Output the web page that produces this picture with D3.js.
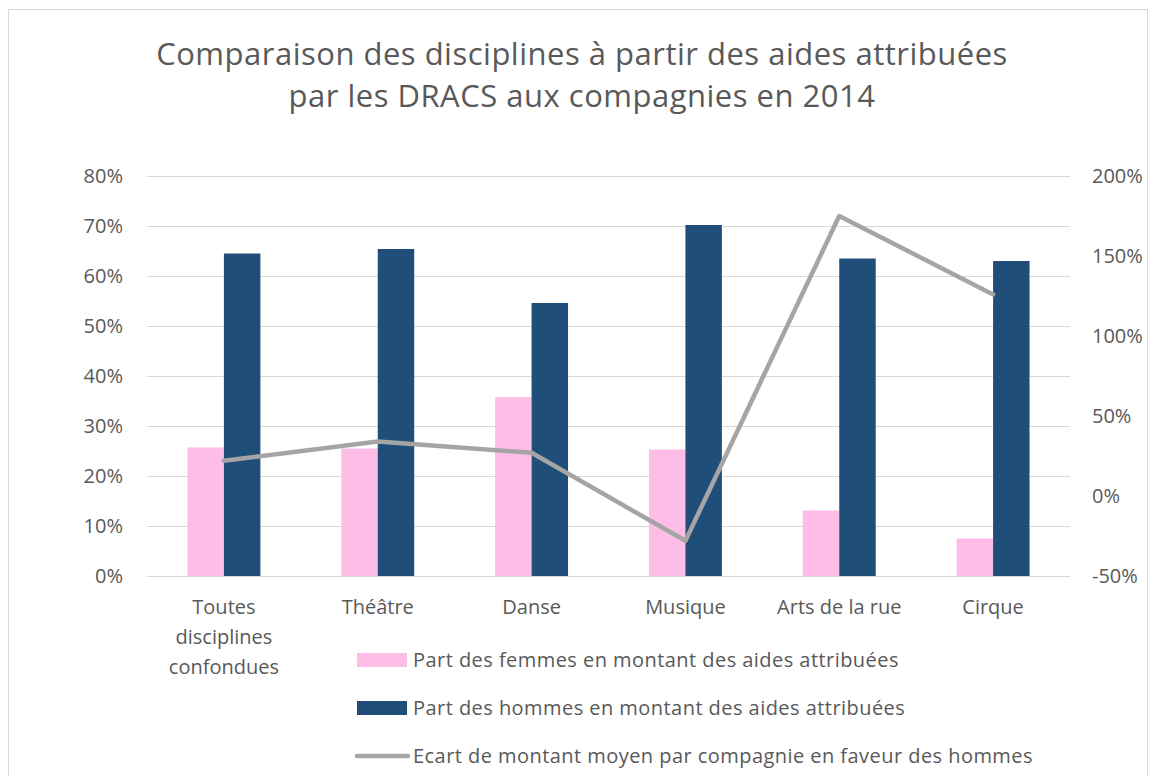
<!DOCTYPE html>
<html>
<head>
<meta charset="utf-8">
<script src="https://cdn.jsdelivr.net/npm/d3@7.9.0/dist/d3.min.js"></script>
<style>
  body { margin: 0; background: #fff; }
  text { font-family: "Open Sans", sans-serif; fill: #595959; }
</style>
</head>
<body>
<div class="container"></div>
<script>
// data
const categories = ["Toutes disciplines confondues", "Théâtre", "Danse", "Musique", "Arts de la rue", "Cirque"];
const categoryLines = [["Toutes", "disciplines", "confondues"], ["Théâtre"], ["Danse"], ["Musique"], ["Arts de la rue"], ["Cirque"]];
const femmes = [25.7, 25.5, 35.8, 25.3, 13.1, 7.5];
const hommes = [64.5, 65.4, 54.6, 70.2, 63.5, 63.0];
const ecart = [22, 34, 27, -28, 175, 126];
const leftTicks = [0, 10, 20, 30, 40, 50, 60, 70, 80];
const rightTicks = [-50, 0, 50, 100, 150, 200];
const seriesNames = [
  "Part des femmes en montant des aides attribuées",
  "Part des hommes en montant des aides attribuées",
  "Ecart de montant moyen par compagnie en faveur des hommes"
];

const width = 1156, height = 776;
const plot = {left: 147, right: 1070, top: 176, bottom: 576};

const svg = d3.select(".container").append("svg")
  .attr("width", width)
  .attr("height", height);

// chart frame
svg.append("rect")
  .attr("x", 8.5).attr("y", 9.5)
  .attr("width", 1139).attr("height", 800)
  .attr("fill", "none")
  .attr("stroke", "#d9d9d9");

// title
const title = svg.append("text")
  .attr("text-anchor", "middle")
  .style("font-size", "31px")
  .style("letter-spacing", "0.5px");
title.append("tspan").attr("x", 582).attr("y", 65)
  .text("Comparaison des disciplines à partir des aides attribuées");
title.append("tspan").attr("x", 582).attr("y", 107)
  .text("par les DRACS aux compagnies en 2014");

const x = d3.scaleBand()
  .domain(categories)
  .range([plot.left, plot.right]);

const yLeft = d3.scaleLinear().domain([0, 80]).range([plot.bottom, plot.top]);
const yRight = d3.scaleLinear().domain([-50, 200]).range([plot.bottom, plot.top]);

const barW = x.bandwidth() * 0.237;

// gridlines
svg.append("g")
  .selectAll("line")
  .data(leftTicks)
  .enter().append("line")
  .attr("x1", plot.left).attr("x2", plot.right)
  .attr("y1", d => Math.round(yLeft(d)) + 0.5)
  .attr("y2", d => Math.round(yLeft(d)) + 0.5)
  .attr("stroke", "#d9d9d9")
  .attr("stroke-width", 1.2);

// left axis labels
svg.append("g")
  .selectAll("text")
  .data(leftTicks)
  .enter().append("text")
  .attr("x", 123)
  .attr("y", d => yLeft(d) + 7)
  .attr("text-anchor", "end")
  .style("font-size", "20px")
  .text(d => d + "%");

// right axis labels
svg.append("g")
  .selectAll("text")
  .data(rightTicks)
  .enter().append("text")
  .attr("x", 1092)
  .attr("y", d => yRight(d) + 7)
  .style("font-size", "20px")
  .text(d => d + "%");

// bars
svg.append("g")
  .selectAll("rect")
  .data(femmes)
  .enter().append("rect")
  .attr("x", (d, i) => x(categories[i]) + x.bandwidth() / 2 - barW)
  .attr("y", d => yLeft(d))
  .attr("width", barW)
  .attr("height", d => yLeft(0) - yLeft(d))
  .attr("fill", "#fdbde6");

svg.append("g")
  .selectAll("rect")
  .data(hommes)
  .enter().append("rect")
  .attr("x", (d, i) => x(categories[i]) + x.bandwidth() / 2)
  .attr("y", d => yLeft(d))
  .attr("width", barW)
  .attr("height", d => yLeft(0) - yLeft(d))
  .attr("fill", "#1f4e79");

// line on secondary axis
const line = d3.line()
  .x((d, i) => x(categories[i]) + x.bandwidth() / 2)
  .y(d => yRight(d));

svg.append("path")
  .datum(ecart)
  .attr("d", line)
  .attr("fill", "none")
  .attr("stroke", "#a5a5a5")
  .attr("stroke-width", 4.5)
  .attr("stroke-linecap", "round")
  .attr("stroke-linejoin", "round");

// category labels
const cat = svg.append("g")
  .selectAll("text")
  .data(categories)
  .enter().append("text")
  .attr("text-anchor", "middle")
  .style("font-size", "20px");
cat.each(function(d, i) {
  d3.select(this).selectAll("tspan")
    .data(categoryLines[i])
    .enter().append("tspan")
    .attr("x", x(d) + x.bandwidth() / 2)
    .attr("y", (t, j) => 614 + j * 30)
    .text(t => t);
});

// legend
const legend = svg.append("g");
const legendY = [660, 708, 756];
legend.append("rect")
  .attr("x", 357).attr("y", legendY[0] - 7)
  .attr("width", 50).attr("height", 14)
  .attr("fill", "#fdbde6");
legend.append("rect")
  .attr("x", 357).attr("y", legendY[1] - 7)
  .attr("width", 50).attr("height", 14)
  .attr("fill", "#1f4e79");
legend.append("line")
  .attr("x1", 357).attr("x2", 408)
  .attr("y1", legendY[2]).attr("y2", legendY[2])
  .attr("stroke", "#a5a5a5")
  .attr("stroke-width", 4.5)
  .attr("stroke-linecap", "round");
legend.selectAll("text")
  .data(seriesNames)
  .enter().append("text")
  .attr("x", 413)
  .attr("y", (d, i) => legendY[i] + 7)
  .style("font-size", "20px")
  .style("letter-spacing", "0.45px")
  .text(d => d);
</script>
</body>
</html>
